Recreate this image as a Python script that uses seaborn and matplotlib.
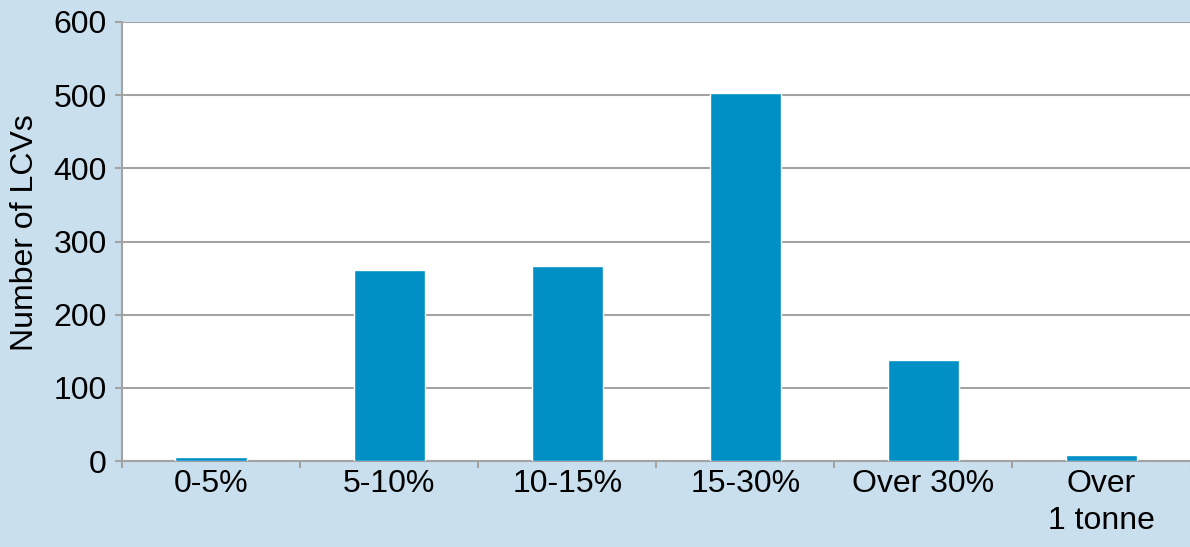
import numpy as np
import pandas as pd
import matplotlib.pyplot as plt
import seaborn as sns

# categories and counts
categories = ["0-5%", "5-10%", "10-15%", "15-30%", "Over 30%", "Over\n1 tonne"]
counts = [5, 261, 266, 503, 138, 9]

df = pd.DataFrame({"band": categories, "lcvs": counts})

sns.set_style("white")
plt.rcParams['font.family'] = ['Liberation Sans', 'DejaVu Sans']
plt.rcParams['text.color'] = 'black'
plt.rcParams['xtick.labelcolor'] = 'black'
plt.rcParams['ytick.labelcolor'] = 'black'
plt.rcParams['axes.labelcolor'] = 'black'

bg = "#c9dfee"
bar_color = "#0090c6"
grey = "#a3a3a3"

fig = plt.figure(figsize=(11.9, 5.47), dpi=100, facecolor=bg)
ax = fig.add_axes([0.1025, 0.157, 0.898, 0.803])
ax.set_facecolor("white")

sns.barplot(data=df, x="band", y="lcvs", color=bar_color, width=0.4,
            saturation=1, ax=ax, zorder=3)

ax.set_ylim(0, 600)
ax.set_xlim(-0.5, len(categories) - 0.5)
ax.set_yticks(np.arange(0, 601, 100))
ax.yaxis.grid(True, color=grey, linewidth=1.5, zorder=0)
ax.set_axisbelow(True)

# ticks sit between the categories
ax.set_xticks(np.arange(-0.5, len(categories), 1), minor=True)
ax.tick_params(axis="x", which="major", length=0, pad=6, labelsize=23)
ax.tick_params(axis="x", which="minor", length=5, width=1.5, color=grey, direction="out")
ax.tick_params(axis="y", length=5, width=1.5, color=grey, direction="out", pad=6, labelsize=23)
ax.tick_params(bottom=True, left=True, which="both")
for lbl in ax.get_xticklabels():
    lbl.set_linespacing(1.3)

for side in ["top", "right"]:
    ax.spines[side].set_visible(False)
for side in ["left", "bottom"]:
    ax.spines[side].set_color(grey)
    ax.spines[side].set_linewidth(1.5)

ax.set_xlabel("")
ax.set_ylabel("Number of LCVs", fontsize=23)
ax.yaxis.set_label_coords(-0.077, 0.52)

fig.savefig("out.png", dpi=100, facecolor=bg)
